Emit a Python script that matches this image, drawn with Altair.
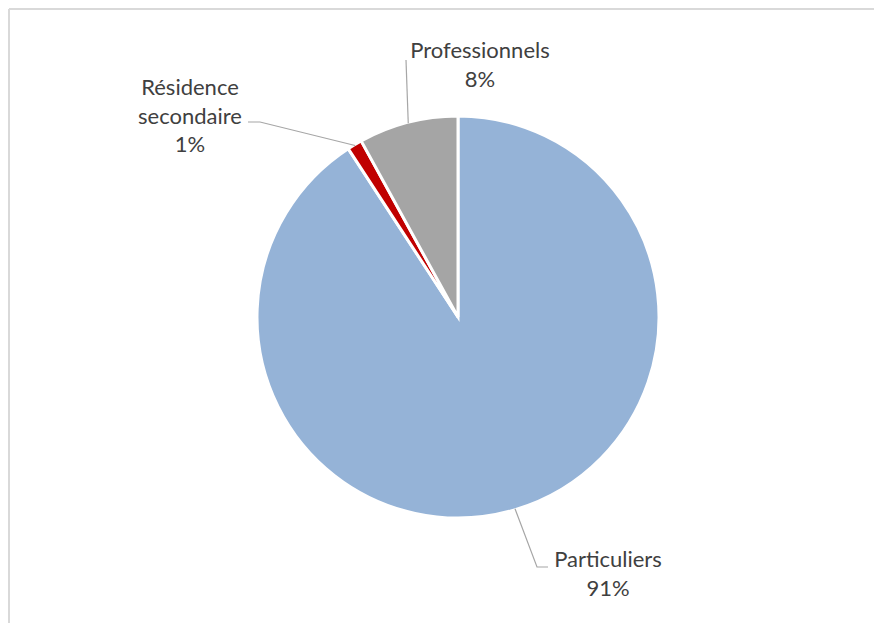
import math
import altair as alt
import pandas as pd

# ---- data ----
categories = ["Particuliers", "Résidence secondaire", "Professionnels"]
values = [90.8, 1.2, 8.0]
pct_labels = ["91%", "1%", "8%"]
label_lines = [["Particuliers"], ["Résidence", "secondaire"], ["Professionnels"]]
colors = ["#95B3D7", "#C00000", "#A5A5A5"]

# ---- layout (pixels, chart coordinates) ----
W, H = 866, 615
CX, CY, R = 450, 309, 200
LABEL_POS = {  # centre x, first baseline y
    "Particuliers": (600, 559),
    "Résidence secondaire": (182, 87),
    "Professionnels": (472, 50),
}
LEADER_TAIL = {  # extra points after slice edge
    "Particuliers": [(529, 559), (540, 559)],
    "Résidence secondaire": [(252, 114), (240, 114)],
    "Professionnels": [(398, 52)],
}

pie_df = pd.DataFrame({"cat": categories, "val": values, "order": range(len(categories))})

# leader lines: start at slice mid-angle on the rim
total = sum(values)
rows = []
cum = 0.0
for i, (c, v) in enumerate(zip(categories, values)):
    mid = 2 * math.pi * (cum + v / 2) / total
    cum += v
    pts = [(CX + R * math.sin(mid), CY - R * math.cos(mid))] + LEADER_TAIL[c]
    for k, (x, y) in enumerate(pts):
        rows.append({"cat": c, "k": k, "x": x, "y": y})
leader_df = pd.DataFrame(rows)

lab_rows = []
for c, lines, p in zip(categories, label_lines, pct_labels):
    x, y = LABEL_POS[c]
    lab_rows.append({"cat": c, "x": x, "y": y, "txt": "\n".join(lines + [p])})
lab_df = pd.DataFrame(lab_rows)

pie = alt.Chart(pie_df).mark_arc(
    outerRadius=R + 1, stroke="white", strokeWidth=3
).encode(
    theta=alt.Theta("val:Q", stack=True),
    order=alt.Order("order:Q"),
    color=alt.Color("cat:N", scale=alt.Scale(domain=categories, range=colors), legend=None),
    x=alt.value(CX),
    y=alt.value(CY),
)

leaders = alt.Chart(leader_df).mark_line(color="#A6A6A6", strokeWidth=1.2).encode(
    x=alt.X("x:Q", scale=None),
    y=alt.Y("y:Q", scale=None),
    detail="cat:N",
    order="k:Q",
)

labels = alt.Chart(lab_df).mark_text(
    font="Lato", fontSize=22, color="#404040", align="center",
    baseline="alphabetic", lineBreak="\n", lineHeight=28.5,
).encode(
    x=alt.X("x:Q", scale=None),
    y=alt.Y("y:Q", scale=None),
    text="txt:N",
)

frame_top = alt.Chart(pie_df).mark_rule(color="#D9D9D9", strokeWidth=1.5).encode(
    x=alt.value(1), x2=alt.value(W), y=alt.value(1)
)
frame_left = alt.Chart(pie_df).mark_rule(color="#D9D9D9", strokeWidth=1.5).encode(
    x=alt.value(1), y=alt.value(1), y2=alt.value(H)
)

chart = alt.layer(frame_top, frame_left, pie, leaders, labels).properties(
    width=W, height=H, padding=0,
    autosize=alt.AutoSizeParams(type="none"),
).configure_view(stroke=None)

chart.save("out.html", embed_options={"renderer": "svg", "actions": False})
